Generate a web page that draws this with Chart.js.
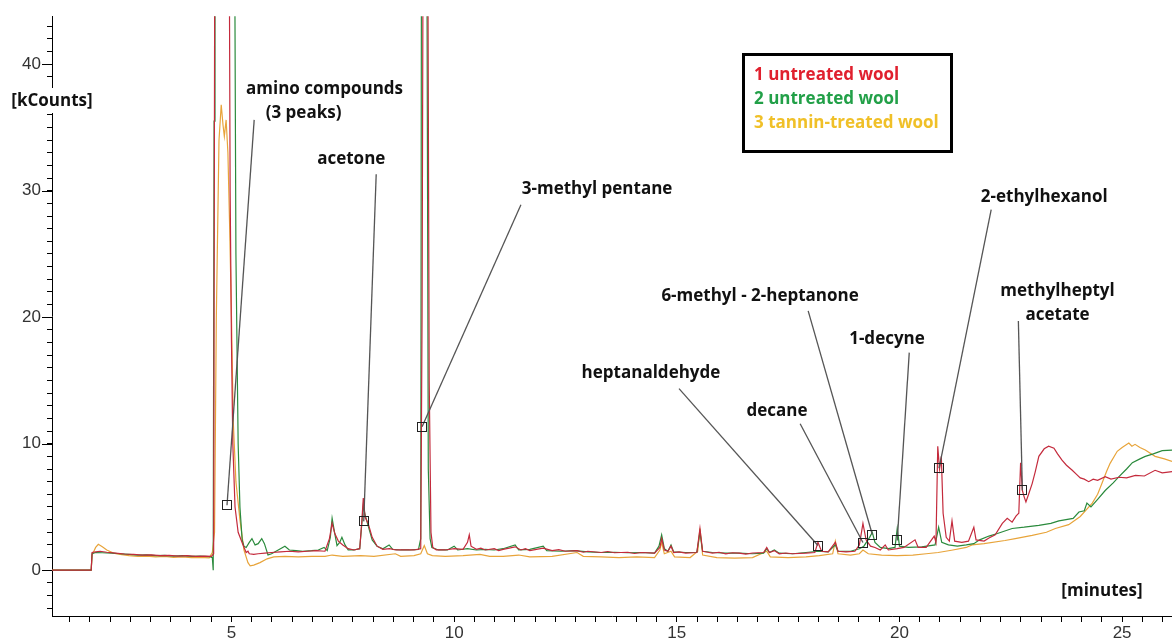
<!DOCTYPE html>
<html>
<head>
<meta charset="utf-8">
<script src="https://cdn.jsdelivr.net/npm/chart.js@4/dist/chart.umd.min.js"></script>
<style>
  body { margin: 0; background: #fff; }
  #wrap { width: 1172px; height: 641px; }
</style>
</head>
<body>
<div id="wrap"><canvas id="gc" width="1172" height="641"></canvas></div>
<script>
// series labels (legend)
const seriesNames = ['1 untreated wool', '2 untreated wool', '3 tannin-treated wool'];

// [minutes, kCounts]
const untreated1 = [
  [0.97,0],[1.85,0],[1.87,1.4],[1.95,1.45],[2.05,1.5],[2.2,1.42],[2.4,1.35],[2.6,1.28],[2.8,1.25],[3.0,1.2],
  [3.2,1.22],[3.4,1.15],[3.6,1.18],[3.8,1.12],[4.0,1.15],[4.2,1.1],[4.4,1.12],[4.55,1.1],[4.6,1.3],[4.63,60],
  [4.94,60],[4.97,30],[5.0,18],[5.03,10],[5.08,5],[5.15,3],[5.26,2.0],[5.33,1.4],[5.37,1.5],[5.40,1.3],
  [5.5,1.25],[5.6,1.3],[5.75,1.35],[5.9,1.4],[6.1,1.45],[6.3,1.5],[6.5,1.45],[6.7,1.5],[6.9,1.55],[7.1,1.5],
  [7.2,2.5],[7.26,3.7],[7.32,2.9],[7.4,2.3],[7.5,2.0],[7.62,1.7],[7.75,1.6],[7.88,1.7],[7.93,4.0],[7.96,5.7],
  [8.0,4.2],[8.07,3.7],[8.16,2.6],[8.27,1.9],[8.4,1.65],[8.55,1.7],[8.7,1.6],[8.9,1.6],[9.1,1.6],[9.25,1.7],
  [9.28,20],[9.31,60],[9.40,60],[9.44,15],[9.48,3],[9.52,1.8],[9.6,1.6],[9.8,1.6],[10.0,1.7],[10.2,1.65],
  [10.3,2.2],[10.34,2.8],[10.38,1.9],[10.5,1.65],[10.6,1.75],[10.7,1.6],[10.9,1.7],[11.0,1.55],[11.1,1.65],[11.37,1.85],
  [11.5,1.6],[11.6,1.7],[11.7,1.55],[12.0,1.75],[12.2,1.55],[12.35,1.62],[12.5,1.5],[12.76,1.55],[12.9,1.42],[13.0,1.5],
  [13.3,1.4],[13.45,1.48],[13.6,1.38],[13.9,1.42],[14.05,1.32],[14.2,1.4],[14.5,1.35],
  [14.62,1.8],[14.66,2.5],[14.72,1.6],[14.8,1.5],[14.87,1.9],[14.93,1.4],[15.05,1.45],[15.2,1.35],[15.45,1.4],[15.52,3.3],[15.58,1.5],
  [15.7,1.42],[15.8,1.35],[15.95,1.42],[16.1,1.3],[16.25,1.38],[16.4,1.35],[16.55,1.28],[16.7,1.36],[16.95,1.4],[17.02,1.8],[17.08,1.4],[17.19,1.55],[17.3,1.3],[17.45,1.36],[17.6,1.3],
  [17.9,1.35],[18.1,1.4],[18.17,2.2],[18.25,1.5],[18.4,1.45],[18.56,2.2],[18.62,1.5],[18.8,1.45],[19.0,1.5],[19.1,2.0],
  [19.18,3.7],[19.25,2.4],[19.35,1.9],[19.45,1.8],[19.57,1.6],[19.68,2.0],[19.75,1.6],[19.95,1.7],[20.1,1.8],[20.35,2.4],
  [20.42,1.8],[20.6,1.8],[20.78,2.7],[20.82,2.2],[20.86,9.8],[20.9,8.0],[20.94,9.0],[20.98,4.5],[21.05,2.6],[21.12,2.3],
  [21.18,3.9],[21.24,2.3],[21.4,2.2],[21.55,2.3],[21.67,3.4],[21.72,2.4],[21.9,2.3],[22.01,2.55],[22.15,2.8],[22.31,3.7],
  [22.42,4.1],[22.53,3.8],[22.62,4.3],[22.68,4.5],[22.72,8.5],[22.76,6.3],[22.8,5.8],[22.84,5.4],[22.9,6.0],[22.98,6.85],
  [23.05,7.8],[23.13,9.0],[23.25,9.6],[23.35,9.8],[23.47,9.65],[23.55,9.2],[23.65,8.7],[23.75,8.3],[23.88,7.9],[23.97,7.6],
  [24.06,7.3],[24.15,7.2],[24.25,7.0],[24.35,7.2],[24.45,7.1],[24.62,7.4],[24.75,7.2],[24.93,7.35],[25.1,7.3],[25.3,7.5],
  [25.5,7.45],[25.74,7.9],[25.9,7.7],[26.12,7.8]
];

const untreated2 = [
  [0.97,0],[1.85,0],[1.87,1.3],[1.95,1.4],[2.1,1.38],[2.3,1.35],[2.5,1.3],[2.7,1.25],[2.9,1.2],[3.1,1.22],
  [3.3,1.15],[3.5,1.18],[3.7,1.12],[3.9,1.15],[4.1,1.1],[4.3,1.12],[4.5,1.08],[4.57,1.0],[4.59,0],[4.61,35.5],
  [4.63,60],[5.06,60],[5.10,25],[5.15,10],[5.19,5],[5.24,2.4],[5.28,1.9],[5.33,1.8],[5.4,2.2],[5.46,2.5],
  [5.53,2.0],[5.6,2.1],[5.68,2.5],[5.74,2.1],[5.82,1.2],[5.9,1.3],[6.05,1.6],[6.2,1.9],[6.3,1.6],[6.45,1.55],
  [6.6,1.5],[6.8,1.55],[6.95,1.6],[7.08,1.8],[7.15,1.55],[7.22,2.6],[7.26,4.1],[7.32,2.9],[7.37,1.95],[7.43,2.2],
  [7.48,2.6],[7.55,2.0],[7.62,1.6],[7.75,1.6],[7.88,1.7],[7.93,3.8],[7.96,5.1],[8.0,4.4],[8.07,3.5],[8.16,2.4],
  [8.27,1.9],[8.4,1.7],[8.54,2.0],[8.62,1.65],[8.8,1.6],[9.0,1.6],[9.2,1.65],[9.25,2.5],[9.27,60],[9.38,60],
  [9.42,8],[9.46,2.5],[9.5,1.8],[9.65,1.6],[9.85,1.6],[10.0,1.9],[10.08,1.6],[10.3,1.7],[10.5,1.6],[10.7,1.65],
  [10.9,1.6],[11.1,1.7],[11.37,2.0],[11.45,1.6],[11.7,1.65],[12.0,1.9],[12.08,1.55],[12.4,1.5],[12.7,1.55],[13.0,1.45],
  [13.3,1.4],[13.6,1.42],[13.9,1.38],[14.2,1.4],[14.5,1.35],[14.6,1.9],[14.66,2.8],[14.72,1.7],[14.8,1.5],[14.87,2.0],
  [14.93,1.45],[15.2,1.4],[15.45,1.4],[15.52,3.0],[15.58,1.5],[15.8,1.4],[16.1,1.35],[16.4,1.35],[16.7,1.3],[16.95,1.35],
  [17.02,1.7],[17.08,1.4],[17.19,1.6],[17.3,1.35],[17.6,1.3],[17.9,1.4],[18.17,1.5],[18.4,1.45],[18.56,2.0],[18.62,1.5],
  [18.9,1.5],[19.1,1.7],[19.2,1.9],[19.33,2.6],[19.39,3.0],[19.45,2.2],[19.57,1.8],[19.75,1.7],[19.9,1.8],[19.95,3.3],
  [20.0,1.9],[20.2,1.8],[20.5,1.85],[20.8,2.0],[20.88,3.4],[20.95,2.2],[21.1,2.0],[21.3,1.9],[21.5,2.0],[21.67,2.1],
  [21.8,2.4],[22.01,2.7],[22.2,2.9],[22.53,3.3],[22.8,3.4],[23.13,3.55],[23.4,3.7],[23.58,3.9],[23.9,4.1],[24.03,4.6],
  [24.15,4.7],[24.21,5.3],[24.3,5.0],[24.45,5.6],[24.62,6.3],[24.8,6.9],[24.93,7.4],[25.1,8.0],[25.23,8.5],[25.4,8.8],
  [25.52,9.0],[25.7,9.2],[25.9,9.45],[26.12,9.5]
];

const tannin3 = [
  [0.97,0],[1.85,0],[1.87,1.2],[1.95,1.8],[2.01,2.05],[2.1,1.85],[2.2,1.6],[2.35,1.35],[2.5,1.25],[2.7,1.15],
  [2.9,1.1],[3.1,1.12],[3.3,1.05],[3.5,1.1],[3.7,1.02],[3.9,1.05],[4.1,1.0],[4.3,1.02],[4.5,0.98],[4.57,1.4],
  [4.62,3],[4.66,20],[4.72,34],[4.77,36.8],[4.81,35.2],[4.84,34.3],[4.88,35.6],[4.92,33],[4.96,27],[5.0,20],
  [5.04,11.8],[5.1,7],[5.19,4],[5.28,1.6],[5.37,0.6],[5.42,0.35],[5.5,0.4],[5.64,0.6],[5.8,0.9],[5.95,1.05],
  [6.2,1.1],[6.5,1.05],[6.8,1.1],[7.1,1.1],[7.26,1.2],[7.5,1.1],[7.9,1.15],[8.2,1.1],[8.68,1.3],[8.8,1.1],
  [9.1,1.15],[9.25,1.3],[9.33,1.95],[9.4,1.3],[9.51,1.15],[9.8,1.1],[10.2,1.15],[10.58,1.25],[10.8,1.1],[11.1,1.1],
  [11.45,1.2],[11.7,1.05],[12.2,1.1],[12.76,1.4],[12.9,1.1],[13.3,1.05],[13.7,1.0],[14.1,1.05],[14.5,1.0],[14.62,1.6],
  [14.66,2.2],[14.72,1.3],[14.87,1.5],[14.95,1.05],[15.3,1.0],[15.47,1.5],[15.52,3.3],[15.58,1.2],[15.9,1.0],[16.3,0.95],
  [16.7,1.0],[17.02,1.5],[17.1,1.05],[17.5,1.0],[17.9,1.05],[18.2,1.15],[18.5,1.3],[18.56,2.3],[18.62,1.3],[18.9,1.2],
  [19.1,1.3],[19.18,1.6],[19.3,1.3],[19.6,1.2],[19.95,1.15],[20.3,1.2],[20.6,1.3],[20.87,1.4],[21.2,1.6],[21.5,1.8],
  [21.63,2.0],[21.9,2.1],[22.37,2.35],[22.6,2.5],[22.98,2.75],[23.3,3.0],[23.5,3.3],[23.8,3.6],[24.06,4.25],[24.33,5.3],
  [24.45,6.0],[24.55,6.9],[24.65,7.8],[24.73,8.45],[24.89,9.4],[25.0,9.7],[25.15,10.05],[25.22,9.8],[25.29,9.95],[25.4,9.7],
  [25.52,9.5],[25.74,9.0],[25.95,8.8],[26.12,8.6]
];

// axis tick labels
const xTickLabels = [5, 10, 15, 20, 25];
const yTickLabels = [0, 10, 20, 30, 40];

// peak annotations: label anchor, leader start, marked point (all in minutes / kCounts)
const peakNames = ['amino compounds|(3 peaks)', 'acetone', '3-methyl pentane', 'heptanaldehyde', 'decane',
  '6-methyl - 2-heptanone', '1-decyne', '2-ethylhexanol', 'methylheptyl|acetate'];
const labelAt = [[7.09,38.07],[7.69,32.5],[13.21,30.1],[14.42,15.6],[17.25,12.6],[16.87,21.7],[19.72,18.26],[23.25,29.5],[23.55,22.1]];
const leaderFrom = [[5.51,35.6],[8.25,31.3],[11.5,28.9],[15.05,14.36],[17.77,11.58],[17.95,20.5],[20.22,17.2],[22.06,28.5],[22.67,19.7]];
const peakMarks = [[4.9,5.13],[7.97,3.86],[9.28,11.34],[18.17,1.95],[19.18,2.19],[19.39,2.82],[19.95,2.35],[20.89,8.07],[22.76,6.32]];

const traceColors = ['#c42a3c', '#2a8a3c', '#e8a43a'];
const legendColors = ['#e0202e', '#22a048', '#f0c028'];

const X_STEP = 5 / 11;
const boldFont = '700 17px "Open Sans", sans-serif';

const overlay = {
  id: 'overlay',
  afterDatasetsDraw(chart) {
    const { ctx, scales: { x, y } } = chart;
    ctx.save();
    // leader lines + markers
    peakNames.forEach((name, i) => {
      ctx.strokeStyle = '#555';
      ctx.lineWidth = 1.3;
      ctx.beginPath();
      ctx.moveTo(x.getPixelForValue(leaderFrom[i][0]), y.getPixelForValue(leaderFrom[i][1]));
      ctx.lineTo(x.getPixelForValue(peakMarks[i][0]), y.getPixelForValue(peakMarks[i][1]));
      ctx.stroke();
      const mx = Math.round(x.getPixelForValue(peakMarks[i][0]));
      const my = Math.round(y.getPixelForValue(peakMarks[i][1]));
      ctx.strokeStyle = '#222';
      ctx.lineWidth = 1;
      ctx.strokeRect(mx - 4.5, my - 4.5, 9, 9);
    });
    // labels
    ctx.font = boldFont;
    ctx.fillStyle = '#111';
    ctx.textAlign = 'center';
    ctx.textBaseline = 'middle';
    peakNames.forEach((name, i) => {
      const lines = name.split('|');
      const px = x.getPixelForValue(labelAt[i][0]);
      const py = y.getPixelForValue(labelAt[i][1]);
      lines.forEach((ln, j) => {
        const dx = (i === 0 && j === 1) ? -21 : 0;
        ctx.fillText(ln, px + dx, py + j * 24);
      });
    });
    ctx.restore();
  },
  afterDraw(chart) {
    const { ctx, chartArea, scales: { x, y } } = chart;
    ctx.save();
    // longer ticks at labelled y values
    ctx.strokeStyle = '#000';
    ctx.lineWidth = 1;
    yTickLabels.forEach(v => {
      const py = Math.round(y.getPixelForValue(v)) + 0.5;
      ctx.beginPath();
      ctx.moveTo(chartArea.left - 10, py);
      ctx.lineTo(chartArea.left, py);
      ctx.stroke();
    });
    // axis titles
    ctx.font = boldFont;
    ctx.textBaseline = 'middle';
    ctx.textAlign = 'center';
    const w = ctx.measureText('[kCounts]').width;
    ctx.fillStyle = '#fff';
    ctx.fillRect(chartArea.left - w / 2 - 2, 88, w + 4, 25);
    ctx.fillStyle = '#111';
    ctx.fillText('[kCounts]', chartArea.left, 101);
    ctx.fillText('[minutes]', 1102, 591);
    // legend box
    ctx.strokeStyle = '#000';
    ctx.lineWidth = 3;
    ctx.strokeRect(743.5, 54.5, 208, 97);
    ctx.textAlign = 'left';
    seriesNames.forEach((s, i) => {
      ctx.fillStyle = legendColors[i];
      ctx.fillText(s, 754, 75 + i * 24);
    });
    ctx.restore();
  }
};

const toXY = arr => arr.map(p => ({ x: p[0], y: p[1] }));

new Chart(document.getElementById('gc'), {
  type: 'line',
  data: {
    datasets: [untreated1, untreated2, tannin3].map((d, i) => ({
      label: seriesNames[i],
      data: toXY(d),
      borderColor: traceColors[i],
      borderWidth: 1.2,
      pointRadius: 0,
      tension: 0,
      fill: false,
      order: i
    }))
  },
  options: {
    responsive: false,
    animation: false,
    events: [],
    layout: { padding: { top: 14, right: 0, left: 0, bottom: 0 } },
    plugins: { legend: { display: false }, tooltip: { enabled: false } },
    scales: {
      x: {
        type: 'linear',
        min: 0.97,
        max: 26.12,
        afterFit: s => { s.height = 25; },
        afterBuildTicks: s => {
          const t = [];
          for (let k = -19; k <= 35; k++) {
            const v = 10 + k * X_STEP;
            if (v > s.min && v <= s.max) t.push({ value: v });
          }
          s.ticks = t;
        },
        border: { display: true, color: '#000', width: 1 },
        grid: { drawOnChartArea: false, drawTicks: true, tickLength: 6, color: '#000' },
        ticks: {
          autoSkip: false,
          maxRotation: 0,
          padding: 1,
          color: '#333',
          font: { family: '"Liberation Sans", Arial, sans-serif', size: 17 },
          callback: v => {
            const m = xTickLabels.find(l => Math.abs(l - v) < 1e-6);
            return m === undefined ? '' : String(m);
          }
        }
      },
      y: {
        type: 'linear',
        min: -3.62,
        max: 43.8,
        afterFit: s => { s.width = 52; },
        afterBuildTicks: s => {
          const t = [];
          for (let v = -3; v <= 43; v++) t.push({ value: v });
          s.ticks = t;
        },
        border: { display: true, color: '#000', width: 1 },
        grid: { drawOnChartArea: false, drawTicks: true, tickLength: 5, color: '#000' },
        ticks: {
          autoSkip: false,
          padding: 6,
          color: '#333',
          font: { family: '"Liberation Sans", Arial, sans-serif', size: 17 },
          callback: v => yTickLabels.includes(v) ? String(v) : ''
        }
      }
    }
  },
  plugins: [overlay]
});
</script>
</body>
</html>
